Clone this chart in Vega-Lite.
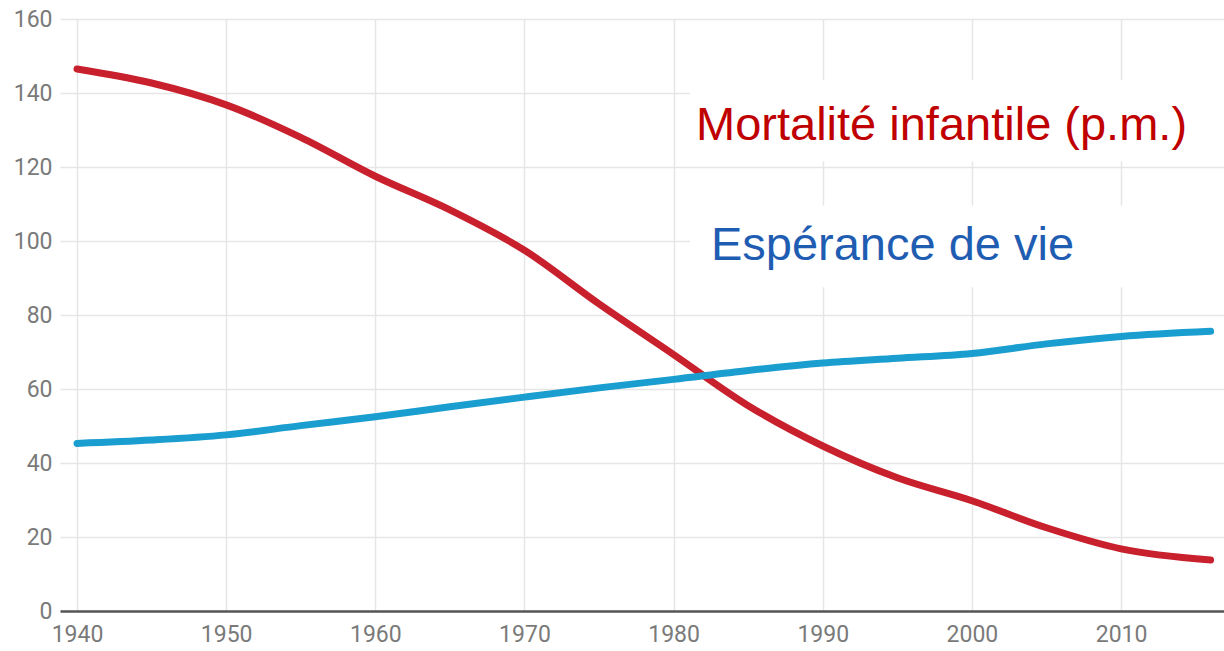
{
  "$schema": "https://vega.github.io/schema/vega-lite/v6.json",
  "width": 1164,
  "height": 592,
  "autosize": {"type": "none"},
  "padding": {"left": 60, "top": 19, "right": 0, "bottom": 40},
  "background": "white",
  "config": {
    "view": {"stroke": null},
    "axis": {"labelFont": "Roboto", "labelFontSize": 23, "labelColor": "#7a7a7a", "gridColor": "#e6e6e6", "gridWidth": 1.5, "ticks": false, "title": null}
  },
  "datasets": {
    "series": [
      {"year": 1940, "value": 146.5, "serie": "Mortalité infantile"},
      {"year": 1945, "value": 142.7, "serie": "Mortalité infantile"},
      {"year": 1950, "value": 136.8, "serie": "Mortalité infantile"},
      {"year": 1955, "value": 128.0, "serie": "Mortalité infantile"},
      {"year": 1960, "value": 117.5, "serie": "Mortalité infantile"},
      {"year": 1965, "value": 108.4, "serie": "Mortalité infantile"},
      {"year": 1970, "value": 97.5, "serie": "Mortalité infantile"},
      {"year": 1975, "value": 83.0, "serie": "Mortalité infantile"},
      {"year": 1980, "value": 69.3, "serie": "Mortalité infantile"},
      {"year": 1985, "value": 55.5, "serie": "Mortalité infantile"},
      {"year": 1990, "value": 44.6, "serie": "Mortalité infantile"},
      {"year": 1995, "value": 36.0, "serie": "Mortalité infantile"},
      {"year": 2000, "value": 29.8, "serie": "Mortalité infantile"},
      {"year": 2005, "value": 22.5, "serie": "Mortalité infantile"},
      {"year": 2010, "value": 16.8, "serie": "Mortalité infantile"},
      {"year": 2016, "value": 13.8, "serie": "Mortalité infantile"},
      {"year": 1940, "value": 45.3, "serie": "Espérance de vie"},
      {"year": 1945, "value": 46.2, "serie": "Espérance de vie"},
      {"year": 1950, "value": 47.6, "serie": "Espérance de vie"},
      {"year": 1955, "value": 50.1, "serie": "Espérance de vie"},
      {"year": 1960, "value": 52.5, "serie": "Espérance de vie"},
      {"year": 1965, "value": 55.2, "serie": "Espérance de vie"},
      {"year": 1970, "value": 57.8, "serie": "Espérance de vie"},
      {"year": 1975, "value": 60.3, "serie": "Espérance de vie"},
      {"year": 1980, "value": 62.6, "serie": "Espérance de vie"},
      {"year": 1985, "value": 65.0, "serie": "Espérance de vie"},
      {"year": 1990, "value": 67.0, "serie": "Espérance de vie"},
      {"year": 1995, "value": 68.3, "serie": "Espérance de vie"},
      {"year": 2000, "value": 69.6, "serie": "Espérance de vie"},
      {"year": 2005, "value": 72.2, "serie": "Espérance de vie"},
      {"year": 2010, "value": 74.2, "serie": "Espérance de vie"},
      {"year": 2016, "value": 75.6, "serie": "Espérance de vie"}
    ],
    "boxes": [
      {"x1": 1981.1, "x2": 2017, "y1": 121.5, "y2": 143.5},
      {"x1": 1981.1, "x2": 2017, "y1": 87.5, "y2": 109.5}
    ],
    "labels": [
      {"year": 1981.5, "value": 127.3, "label": "Mortalité infantile (p.m.)", "serie": "Mortalité infantile"},
      {"year": 1982.5, "value": 94.9, "label": "Espérance de vie", "serie": "Espérance de vie"}
    ]
  },
  "encoding": {
    "x": {"type": "quantitative", "scale": {"domain": [1938.86, 2016.9], "nice": false, "zero": false}},
    "y": {"type": "quantitative", "scale": {"domain": [0, 160], "nice": false}}
  },
  "layer": [
    {
      "data": {"name": "boxes"},
      "mark": {"type": "rect", "fill": "white", "clip": true},
      "encoding": {
        "x": {"field": "x1", "type": "quantitative", "axis": {"values": [1940, 1950, 1960, 1970, 1980, 1990, 2000, 2010], "format": "d", "domainColor": "#555555", "domainWidth": 2.5, "labelPadding": 12, "grid": true}},
        "x2": {"field": "x2"},
        "y": {"field": "y1", "type": "quantitative", "axis": {"values": [0, 20, 40, 60, 80, 100, 120, 140, 160], "domain": false, "labelPadding": 8, "grid": true}},
        "y2": {"field": "y2"}
      }
    },
    {
      "data": {"name": "series"},
      "mark": {"type": "line", "strokeWidth": 7, "strokeCap": "round", "strokeJoin": "round", "interpolate": "monotone"},
      "encoding": {
        "x": {"field": "year", "type": "quantitative"},
        "y": {"field": "value", "type": "quantitative"},
        "color": {"field": "serie", "type": "nominal", "scale": {"domain": ["Mortalité infantile", "Espérance de vie"], "range": ["#c8202c", "#1a9dcf"]}, "legend": null},
        "detail": {"field": "serie"}
      }
    },
    {
      "data": {"name": "labels"},
      "mark": {"type": "text", "font": "Liberation Sans", "fontSize": 47, "align": "left", "baseline": "alphabetic"},
      "encoding": {
        "x": {"field": "year", "type": "quantitative"},
        "y": {"field": "value", "type": "quantitative"},
        "text": {"field": "label"},
        "color": {"field": "serie", "type": "nominal", "scale": {"domain": ["Mortalité infantile", "Espérance de vie"], "range": ["#c00000", "#1f5db3"]}, "legend": null}
      }
    }
  ],
  "resolve": {"scale": {"color": "independent"}}
}
